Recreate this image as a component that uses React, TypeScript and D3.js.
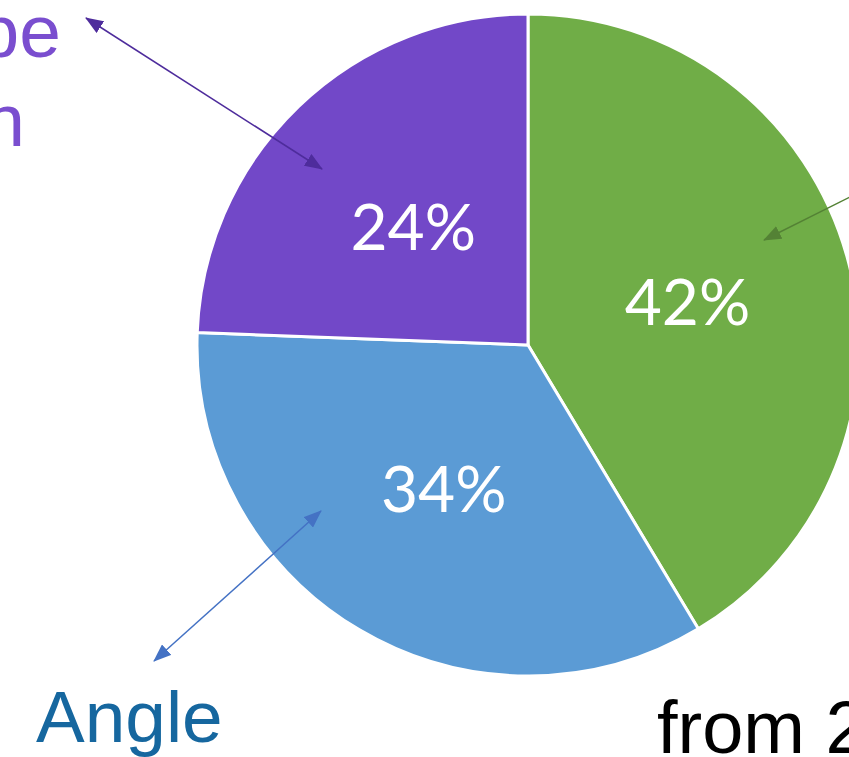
import React from "react";
import * as d3 from "d3";

// Pie data
const categories = ["Other", "Angle", "Probe Position"];
const values = [41.4, 34.2, 24.4];
const valueLabels = ["42%", "34%", "24%"];
const colors = ["#70AD47", "#5B9BD5", "#7248C8"];

const W = 849;
const H = 757;
const cx = 528;
const cy = 345;
const R = 331;

type Arrow = { x1: number; y1: number; x2: number; y2: number; color: string; id: string; both: boolean };
const arrows: Arrow[] = [
  { x1: 322, y1: 169, x2: 86, y2: 18, color: "#4E2C9C", id: "ap", both: true },
  { x1: 321, y1: 511, x2: 154, y2: 661, color: "#4472C4", id: "ab", both: true },
  { x1: 764, y1: 240, x2: 900, y2: 172, color: "#548235", id: "ag", both: false },
];

export default function App() {
  const arcs = d3.pie<number>().sort(null).value((d) => d)(values);
  const arc = d3.arc<d3.PieArcDatum<number>>().innerRadius(0).outerRadius(R);
  const labelArc = d3
    .arc<d3.PieArcDatum<number>>()
    .innerRadius(R * 0.5)
    .outerRadius(R * 0.5);

  return (
    <div style={{ position: "fixed", left: 0, top: 0, width: W, height: H, overflow: "hidden", background: "#fff" }}>
      <svg width={W} height={H} viewBox={`0 0 ${W} ${H}`} style={{ display: "block" }}>
        <defs>
          {arrows.map((a) => (
            <marker
              key={a.id}
              id={a.id}
              markerUnits="userSpaceOnUse"
              markerWidth={18}
              markerHeight={14}
              refX={17}
              refY={7}
              orient="auto-start-reverse"
            >
              <path d="M0,0 L18,7 L0,14 Z" fill={a.color} />
            </marker>
          ))}
        </defs>
        <g transform={`translate(${cx},${cy})`}>
          {arcs.map((d, i) => (
            <path key={categories[i]} d={arc(d) || ""} fill={colors[i]} stroke="#fff" strokeWidth={3} strokeLinejoin="round" />
          ))}
          {arcs.map((d, i) => {
            const [x, y] = labelArc.centroid(d);
            return (
              <text
                key={"l" + i}
                x={x}
                y={y}
                textAnchor="middle"
                dominantBaseline="central"
                fill="#fff"
                fontFamily="Lato, 'Open Sans', sans-serif"
                fontSize={64}
              >
                {valueLabels[i]}
              </text>
            );
          })}
        </g>
        {arrows.map((a) => (
          <line
            key={"line" + a.id}
            x1={a.x1}
            y1={a.y1}
            x2={a.x2}
            y2={a.y2}
            stroke={a.color}
            strokeWidth={1.5}
            markerStart={`url(#${a.id})`}
            markerEnd={a.both ? `url(#${a.id})` : undefined}
          />
        ))}
        <g fontFamily="'Liberation Sans', Arial, sans-serif">
          <text x={61} y={57} textAnchor="end" fontSize={75} fill="#7A4ECF">Probe</text>
          <text x={25} y={146} textAnchor="end" fontSize={75} fill="#7A4ECF">Position</text>
          <text x={36} y={742} fontSize={73} fill="#16679F">Angle</text>
          <text x={657} y={753} fontSize={74} fill="#000">from 2019</text>
        </g>
      </svg>
    </div>
  );
}
